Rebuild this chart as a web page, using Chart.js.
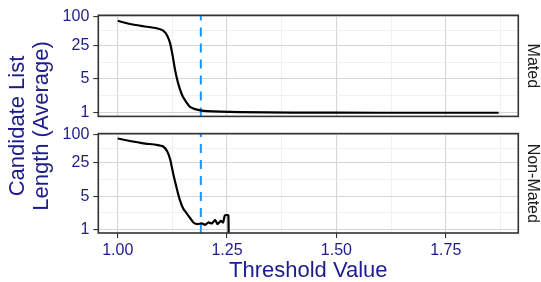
<!DOCTYPE html>
<html>
<head>
<meta charset="utf-8">
<script src="https://cdn.jsdelivr.net/npm/chart.js@4"></script>
<style>
  html, body { margin: 0; padding: 0; background: #fff; }
  #wrap { position: relative; width: 541px; height: 282px; overflow: hidden; }
  .panel { position: absolute; left: 0; }
  #ytitle {
    position: absolute; left: -90.6px; top: 102px; width: 240px; height: 48px;
    font: 22px "Liberation Sans", Arial, sans-serif; line-height: 24px;
    color: #1c1c8c; text-align: center; transform: rotate(-90deg);
  }
</style>
</head>
<body>
<div id="wrap">
  <canvas id="matedChart" class="panel" style="top:0" width="541" height="130"></canvas>
  <canvas id="nonMatedChart" class="panel" style="top:120px" width="541" height="162"></canvas>
  <div id="ytitle">Candidate List<br>Length (Average)</div>
</div>
<script>
// values
const matedX = [1.000, 1.028, 1.059, 1.089, 1.104, 1.113, 1.120, 1.126, 1.131, 1.139, 1.150, 1.165, 1.181, 1.204, 1.280, 1.400, 1.600, 1.871];
const matedY = [80, 68.7, 61.8, 56.2, 50.2, 39.8, 27.0, 14.5, 7.8, 3.83, 2.06, 1.33, 1.16, 1.08, 1.03, 1.01, 1.0, 1.0];

const nonMatedX = [1.000, 1.028, 1.059, 1.089, 1.104, 1.113, 1.120, 1.127, 1.135, 1.142, 1.150, 1.161, 1.173, 1.182, 1.192, 1.200, 1.207, 1.215, 1.223, 1.228, 1.236, 1.241, 1.245, 1.253, 1.2545];
const nonMatedY = [82, 72.6, 64.9, 60.3, 55.6, 44, 29.7, 14.7, 7.3, 4.19, 2.71, 1.98, 1.40, 1.29, 1.34, 1.25, 1.40, 1.34, 1.58, 1.29, 1.51, 1.40, 1.98, 1.98, 0.01];

const thresholdValue = 1.19;

const xMajor = [1.00, 1.25, 1.50, 1.75];
const xMinor = [1.125, 1.375, 1.625, 1.875];
const yMajor = [1, 5, 25, 100];

const X_MIN = 0.9556, X_MAX = 1.916;
const Y_MIN = 0.84, Y_MAX = 104;

const navy = '#1c1c8c';
Chart.defaults.font.family = '"Liberation Sans", Arial, sans-serif';

const yMinor = [];
for (let i = 0; i < yMajor.length - 1; i++) yMinor.push(Math.sqrt(yMajor[i] * yMajor[i + 1]));

function withMinor(major, minor) {
  return major.map(v => ({ value: v }))
    .concat(minor.map(v => ({ value: v, minor: true })))
    .sort((a, b) => a.value - b.value);
}

const isMinor = c => c.tick && c.tick.minor;
const gridOpts = {
  color: c => isMinor(c) ? '#ebebeb' : '#d6d6d6',
  lineWidth: c => isMinor(c) ? 0.7 : 1.1,
  tickColor: c => isMinor(c) ? 'rgba(0,0,0,0)' : '#333333',
  tickLength: 5
};

const panelBox = {
  id: 'panelBox',
  afterDraw(chart) {
    const { ctx, chartArea: a } = chart;
    ctx.save();
    ctx.strokeStyle = '#333333';
    ctx.lineWidth = 1.6;
    ctx.strokeRect(a.left, a.top, a.right - a.left, a.bottom - a.top);
    ctx.restore();
  }
};

function makePanel(id, xs, ys, stripLabel, isBottom) {
  const pts = xs.map((x, i) => ({ x: x, y: ys[i] }));
  return new Chart(document.getElementById(id), {
    type: 'line',
    data: {
      datasets: [{
        data: pts,
        borderColor: '#000000',
        borderWidth: 2.2,
        pointRadius: 0,
        tension: 0.15,
        clip: 0
      }, {
        data: [{ x: thresholdValue, y: Y_MIN }, { x: thresholdValue, y: Y_MAX }],
        borderColor: '#1E90FF',
        borderWidth: 2,
        borderDash: [9, 7],
        pointRadius: 0,
        clip: 0
      }]
    },
    options: {
      responsive: false,
      animation: false,
      events: [],
      layout: { padding: { top: isBottom ? 11 : 15.3, left: 0, right: 0, bottom: 0 } },
      plugins: { legend: { display: false }, tooltip: { enabled: false } },
      scales: {
        x: {
          type: 'linear',
          min: X_MIN,
          max: X_MAX,
          border: { display: false },
          grid: Object.assign({}, gridOpts, { drawTicks: isBottom }),
          afterBuildTicks: s => { s.ticks = withMinor(xMajor, xMinor); },
          afterFit: s => { s.height = isBottom ? 49 : 12; },
          ticks: {
            display: isBottom,
            autoSkip: false,
            maxRotation: 0,
            padding: 3,
            color: navy,
            font: { size: 16 },
            callback: (v, i, t) => t[i].minor ? '' : v.toFixed(2)
          },
          title: {
            display: isBottom,
            text: 'Threshold Value',
            color: navy,
            font: { size: 22, lineHeight: 1 },
            padding: 0
          }
        },
        y: {
          type: 'logarithmic',
          position: 'left',
          min: Y_MIN,
          max: Y_MAX,
          border: { display: false },
          grid: gridOpts,
          afterBuildTicks: s => { s.ticks = withMinor(yMajor, yMinor); },
          afterFit: s => { s.width = 98.3; },
          ticks: {
            autoSkip: false,
            padding: 4,
            color: navy,
            font: { size: 16 },
            callback: (v, i, t) => t[i].minor ? '' : String(v)
          }
        },
        strip: {
          type: 'linear',
          axis: 'y',
          position: 'right',
          display: true,
          border: { display: false },
          grid: { display: false, drawTicks: false },
          ticks: { display: false },
          afterFit: s => { s.width = 22.7; },
          title: {
            display: true,
            text: stripLabel,
            color: '#1a1a1a',
            font: { size: 16, lineHeight: 1 },
            padding: { top: 0.5, bottom: 0 }
          }
        }
      }
    },
    plugins: [panelBox]
  });
}

makePanel('matedChart', matedX, matedY, 'Mated', false);
makePanel('nonMatedChart', nonMatedX, nonMatedY, 'Non-Mated', true);
</script>
</body>
</html>
